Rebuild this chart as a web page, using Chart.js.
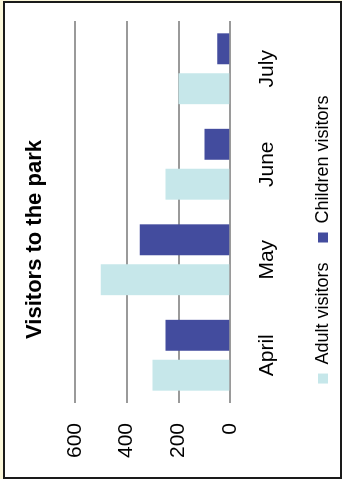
<!DOCTYPE html>
<html><head><meta charset="utf-8">
<script src="https://cdn.jsdelivr.net/npm/chart.js@4.4.1/dist/chart.umd.min.js"></script>
<style>
html,body{margin:0;padding:0;width:342px;height:479px;overflow:hidden;background:#fbf7da;}
#frame{position:absolute;left:3px;top:1px;width:335px;height:474px;border:2px solid #1a1a1a;background:#fff;}
#rot{position:absolute;left:0;top:0;width:479px;height:342px;transform-origin:0 0;transform:translate(0,479px) rotate(-90deg);}
canvas{display:block}
</style></head><body>
<div id="frame"></div>
<div id="rot"><canvas id="c" width="479" height="342"></canvas></div>
<script>
const categories = ['April', 'May', 'June', 'July'];
const adultVisitors = [300, 500, 250, 200];
const childrenVisitors = [250, 350, 100, 50];
const valueTicks = [0, 200, 400, 600];
const seriesNames = ['Adult visitors', 'Children visitors'];
const chartTitle = 'Visitors to the park';

const F = "'Liberation Sans', Arial, sans-serif";

new Chart(document.getElementById('c'), {
  type: 'bar',
  data: {
    labels: categories,
    datasets: [
      { label: seriesNames[0], data: adultVisitors, backgroundColor: '#c6e7ea', categoryPercentage: 0.836, barPercentage: 0.775 },
      { label: seriesNames[1], data: childrenVisitors, backgroundColor: '#434c9e', categoryPercentage: 0.836, barPercentage: 0.775 }
    ]
  },
  options: {
    responsive: false,
    animation: false,
    devicePixelRatio: 1,
    layout: { padding: { left: 0, right: 0, top: 10, bottom: 0 } },
    plugins: {
      title: { display: true, text: chartTitle, color: '#000', font: { family: F, size: 22, weight: 'bold' }, padding: { top: 12, bottom: 26.5 } },
      legend: { position: 'bottom', labels: { color: '#000', font: { family: F, size: 18 }, boxWidth: 10, boxHeight: 10, padding: 20 } },
      tooltip: { enabled: false }
    },
    scales: {
      x: {
        grid: { display: false, drawTicks: false },
        border: { display: false },
        ticks: { color: '#000', font: { family: F, size: 21 }, padding: 24, maxRotation: 0 },
        afterFit: s => { s.height = 63.7; }
      },
      y: {
        min: 0, max: 600,
        grid: { color: '#9a9a9a', lineWidth: 2, drawTicks: false },
        border: { display: false },
        ticks: { color: '#000', font: { family: F, size: 21 }, padding: 20 },
        afterBuildTicks: s => { s.ticks = valueTicks.map(v => ({ value: v })); },
        afterFit: s => { s.width = 76; }
      },
      yr: {
        position: 'right',
        grid: { display: false, drawTicks: false },
        border: { display: false },
        ticks: { display: false },
        afterFit: s => { s.width = 21; }
      }
    }
  }
});
</script>
</body></html>
